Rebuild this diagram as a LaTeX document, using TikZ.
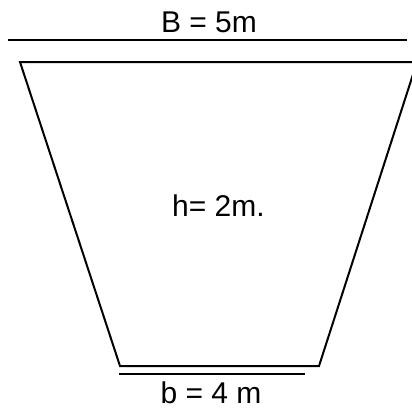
\documentclass[tikz,border=0pt]{standalone}
\usepackage{fontspec}
\setmainfont{Liberation Sans}
\usetikzlibrary{positioning,calc}
\tikzset{
  fig/.style={font=\fontsize{30}{36}\selectfont},
  edge/.style={line width=2pt},
  dimln/.style={line width=2pt},
  thindim/.style={line width=1.4pt},
  lbl/.style={inner sep=0pt,anchor=base},
}

\begin{document}
\begin{tikzpicture}[fig,x=1pt,y=-1pt]
\useasboundingbox (0,0) rectangle (412,408);
\clip (0,0) rectangle (412,408);

\coordinate (tl) at (20,62);
\coordinate (tr) at (417,62);
\coordinate (br) at (319,366);
\coordinate (bl) at (120,366);
\draw[edge] (tl) -- (tr) -- (br) -- (bl) -- cycle;

\coordinate (Bwest) at (8,40);
\coordinate (Beast) at (407,40);
\draw[dimln] (Bwest) -- (Beast);

\coordinate (bwest) at (119,374);
\coordinate (beast) at (305,374);
\draw[thindim] (bwest) -- (beast);

\node[lbl] (Btext) at (209,32)    {B = 5m};
\node[lbl] (htext) at (218.5,216) {h= 2m.};
\node[lbl] (btext) at (211,403)   {b = 4 m};

\end{tikzpicture}
\end{document}
